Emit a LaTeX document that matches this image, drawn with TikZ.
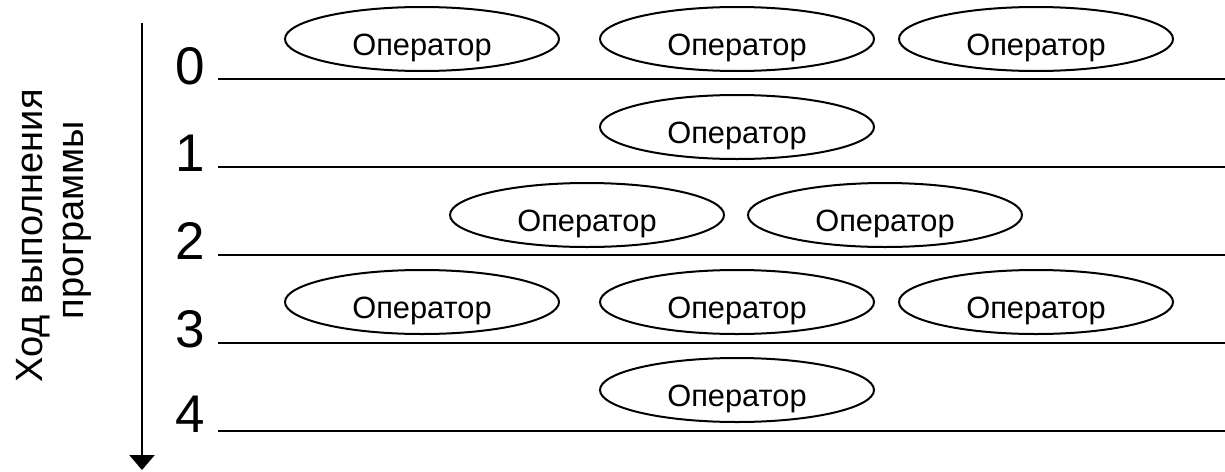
\documentclass[tikz,border=0pt]{standalone}
\usepackage{fontspec}
\setmainfont{Liberation Sans}
\usepackage{tikz}
\usetikzlibrary{shapes.geometric, arrows.meta}

\begin{document}
\begin{tikzpicture}[x=1pt, y=-1pt, line width=2pt,
    op/.style = {draw, ellipse, minimum width=274pt, minimum height=64pt, inner sep=0pt,
                 font=\fontsize{30.8pt}{34pt}\selectfont, text height=33pt, text depth=0pt},
    num/.style = {anchor=base, font=\fontsize{53pt}{60pt}\selectfont},
    axislabel/.style = {anchor=base, rotate=90, font=\fontsize{38pt}{44pt}\selectfont}]
    \useasboundingbox (0,0) rectangle (1225,471);

    % axis
    \coordinate (top) at (142,23);
    \coordinate (bottom) at (142,470);
    \draw[line width=2.5pt, -{Triangle[width=25pt,length=15pt]}] (top) -- (bottom);
    \node[axislabel] (lab1) at (42,236) {Ход выполнения};
    \node[axislabel] (lab2) at (83,220) {программы};

    % steps
    \node[num] (s0) at (190,84)  {0};
    \node[num] (s1) at (190,171) {1};
    \node[num] (s2) at (190,259) {2};
    \node[num] (s3) at (190,347) {3};
    \node[num] (s4) at (190,432) {4};
    \draw (218,79)  -- (1225,79);
    \draw (218,167) -- (1225,167);
    \draw (218,255) -- (1225,255);
    \draw (218,343) -- (1225,343);
    \draw (218,431) -- (1225,431);

    % operators
    \node[op] (0a) at (422,39)  {Оператор};
    \node[op] (0b) at (737,39)  {Оператор};
    \node[op] (0c) at (1036,39) {Оператор};

    \node[op] (1a) at (737,127) {Оператор};

    \node[op] (2a) at (587,215) {Оператор};
    \node[op] (2b) at (885,215) {Оператор};

    \node[op] (3a) at (422,302)  {Оператор};
    \node[op] (3b) at (737,302)  {Оператор};
    \node[op] (3c) at (1036,302) {Оператор};

    \node[op] (4a) at (737,390) {Оператор};
\end{tikzpicture}
\end{document}
